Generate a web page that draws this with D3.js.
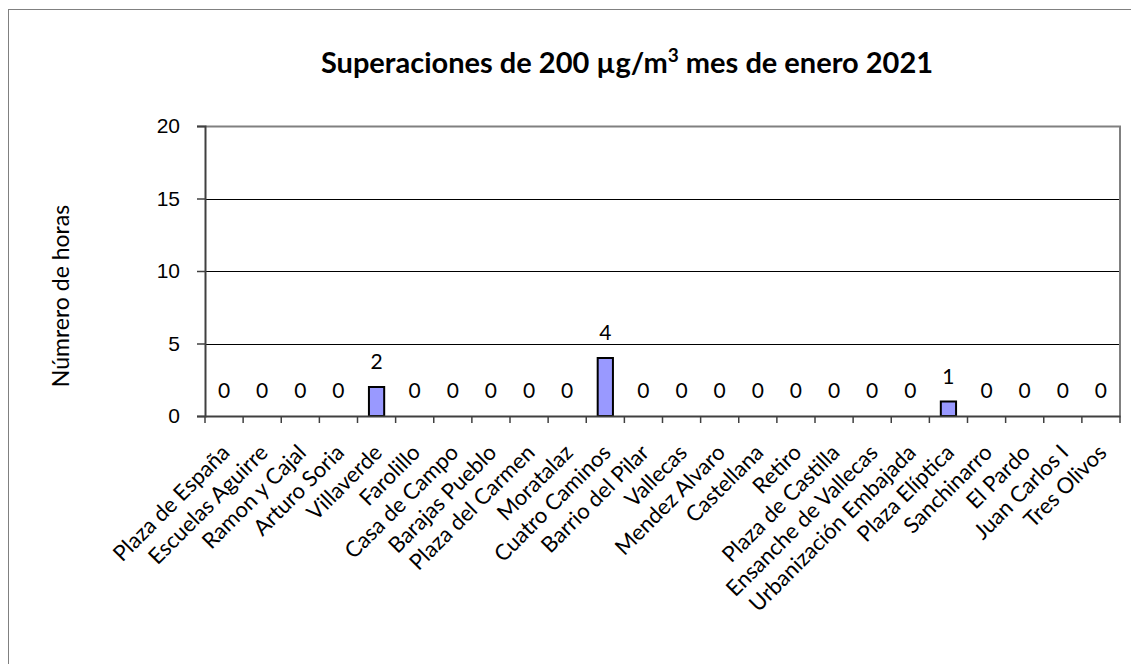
<!DOCTYPE html>
<meta charset="utf-8">
<style>
  body { margin: 0; background: #fff; }
  svg { font-family: Lato, "Open Sans", sans-serif; }
  .grid line { stroke: #000; stroke-width: 1; }
  .axis text { font-size: 21px; fill: #000; }
  .xlabel { font-size: 22px; fill: #000; }
  .val { font-size: 21px; fill: #000; text-anchor: middle; }
</style>
<svg width="1131" height="664"></svg>
<script src="https://d3js.org/d3.v7.min.js"></script>
<script>
var stations = ["Plaza de España", "Escuelas Aguirre", "Ramon y Cajal", "Arturo Soria", "Villaverde",
  "Farolillo", "Casa de Campo", "Barajas Pueblo", "Plaza del Carmen", "Moratalaz", "Cuatro Caminos",
  "Barrio del Pilar", "Vallecas", "Mendez Alvaro", "Castellana", "Retiro", "Plaza de Castilla",
  "Ensanche de Vallecas", "Urbanización Embajada", "Plaza Elíptica", "Sanchinarro", "El Pardo",
  "Juan Carlos I", "Tres Olivos"];
var horas = [0, 0, 0, 0, 2, 0, 0, 0, 0, 0, 4, 0, 0, 0, 0, 0, 0, 0, 0, 1, 0, 0, 0, 0];
var yTicks = [0, 5, 10, 15, 20];

var svg = d3.select("svg");
var pLeft = 205, pRight = 1120, pTop = 126, pBottom = 416;

// outer chart frame (runs past the picture on right and bottom)
svg.append("rect")
    .attr("x", 8.5).attr("y", 9.5)
    .attr("width", 1140).attr("height", 680)
    .attr("fill", "#fff").attr("stroke", "#808080").attr("stroke-width", 1);

var x = d3.scaleBand().domain(stations).range([pLeft, pRight]);
var y = d3.scaleLinear().domain([0, 20]).range([pBottom, pTop]);

// gridlines
svg.append("g").attr("class", "grid")
  .selectAll("line").data(yTicks.slice(1, 4)).enter().append("line")
    .attr("x1", pLeft).attr("x2", pRight)
    .attr("y1", function(d) { return Math.round(y(d)) + 0.5; })
    .attr("y2", function(d) { return Math.round(y(d)) + 0.5; });

// plot border top / right
svg.append("path")
    .attr("d", "M" + pLeft + "," + (pTop + 0.5) + "H" + pRight + "V" + pBottom)
    .attr("fill", "none").attr("stroke", "#808080").attr("stroke-width", 2);

// bars
var bw = x.bandwidth() * 0.4;
svg.append("g").selectAll("rect").data(stations).enter().append("rect")
    .attr("x", function(d) { return x(d) + x.bandwidth() / 2 - bw / 2; })
    .attr("y", function(d, i) { return y(horas[i]); })
    .attr("width", bw)
    .attr("height", function(d, i) { return pBottom - y(horas[i]); })
    .attr("fill", "#9999FF").attr("stroke", "#000").attr("stroke-width", 2)
    .style("display", function(d, i) { return horas[i] > 0 ? null : "none"; });

// value labels
svg.append("g").selectAll("text").data(stations).enter().append("text")
    .attr("class", "val")
    .attr("x", function(d) { return x(d) + x.bandwidth() / 2; })
    .attr("y", function(d, i) { return y(horas[i]) - 18; })
    .text(function(d, i) { return horas[i]; });

// y axis
var yAxis = svg.append("g").attr("class", "axis")
    .attr("transform", "translate(" + pLeft + ",0)")
    .call(d3.axisLeft(y).tickValues(yTicks).tickSize(8).tickPadding(17));
yAxis.select(".domain").attr("stroke", "#404040").attr("stroke-width", 2);
yAxis.selectAll(".tick line").attr("stroke", "#404040").attr("stroke-width", 1.5);

// x axis
var xAxis = svg.append("g").attr("class", "axis")
    .attr("transform", "translate(0," + pBottom + ")")
    .call(d3.axisBottom(x).tickSize(0).tickFormat(""));
xAxis.select(".domain").attr("stroke", "#404040").attr("stroke-width", 2);
svg.append("g").selectAll("line").data(stations.concat(["end"])).enter().append("line")
    .attr("x1", function(d, i) { return pLeft + i * x.step(); })
    .attr("x2", function(d, i) { return pLeft + i * x.step(); })
    .attr("y1", pBottom).attr("y2", pBottom + 7)
    .attr("stroke", "#404040").attr("stroke-width", 1.5);

svg.append("g").selectAll("text").data(stations).enter().append("text")
    .attr("class", "xlabel")
    .attr("text-anchor", "end")
    .attr("transform", function(d) {
      return "translate(" + (x(d) + x.bandwidth() / 2 + 7) + "," + (pBottom + 38) + ") rotate(-45)";
    })
    .text(function(d) { return d; });

// axis title
svg.append("text")
    .attr("transform", "translate(69,296) rotate(-90)")
    .attr("text-anchor", "middle")
    .style("font-size", "23px")
    .text("Númrero de horas");

// title
var title = svg.append("text")
    .attr("x", 627).attr("y", 73)
    .attr("text-anchor", "middle")
    .style("font-size", "29px").style("font-weight", "bold");
title.append("tspan").text("Superaciones de 200 µg/m");
title.append("tspan").attr("dy", -11).style("font-size", "19px").text("3");
title.append("tspan").attr("dy", 11).text(" mes de enero 2021");
</script>
